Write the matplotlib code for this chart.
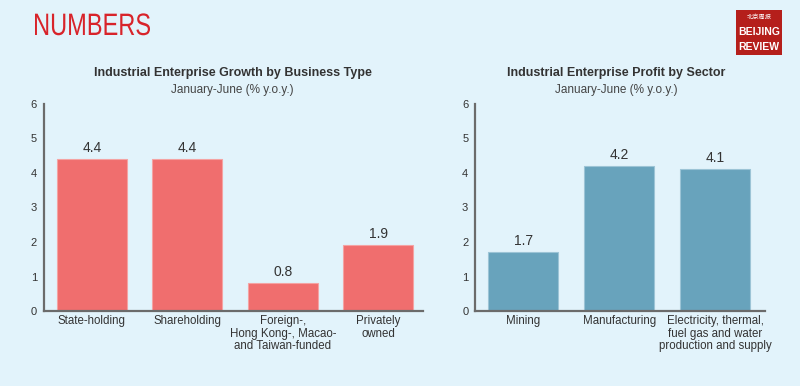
import matplotlib
matplotlib.use("Agg")
import matplotlib.pyplot as plt
from matplotlib.patches import Rectangle, PathPatch
from matplotlib.textpath import TextPath
from matplotlib.font_manager import FontProperties
from matplotlib.transforms import Affine2D, IdentityTransform

plt.rcParams["font.family"] = ["Liberation Sans", "DejaVu Sans"]

# data
left_title = "Industrial Enterprise Growth by Business Type"
right_title = "Industrial Enterprise Profit by Sector"
subtitle = "January-June (% y.o.y.)"

business_types = ["State-holding", "Shareholding",
                  "Foreign-,\nHong Kong-, Macao-\nand Taiwan-funded",
                  "Privately\nowned"]
growth = [4.4, 4.4, 0.8, 1.9]

sectors = ["Mining", "Manufacturing",
           "Electricity, thermal,\nfuel gas and water\nproduction and supply"]
profit = [1.7, 4.2, 4.1]

yticks = [0, 1, 2, 3, 4, 5, 6]

bg = "#e2f3fb"
red = "#f06e6e"
blue = "#68a3bc"
txt = "#333333"
spine = "#6b6b6b"

fig = plt.figure(figsize=(8, 3.86), dpi=100, facecolor=bg)


def draw(ax, cats, vals, color, edge):
    ax.set_facecolor(bg)
    x = range(len(cats))
    ax.bar(x, vals, width=0.73, color=color, edgecolor=edge, linewidth=0.8)
    for i, v in zip(x, vals):
        ax.text(i, v + 0.12, f"{v:.1f}", ha="center", va="bottom",
                fontsize=10, color=txt)
    ax.set_ylim(0, 6)
    ax.set_yticks(yticks)
    ax.set_xticks(list(x))
    ax.set_xticklabels(cats, fontsize=8.3, color=txt, linespacing=1.05)
    ax.tick_params(axis="y", length=0, pad=5, labelsize=8, labelcolor=txt)
    ax.tick_params(axis="x", length=0, pad=3)
    for s in ["top", "right"]:
        ax.spines[s].set_visible(False)
    for s in ["left", "bottom"]:
        ax.spines[s].set_color(spine)
        ax.spines[s].set_linewidth(1.6)


ax1 = fig.add_axes([0.055, 0.194, 0.474, 0.537])
draw(ax1, business_types, growth, red, "#f4a3a3")
ax1.set_xlim(-0.5, 3.47)

ax2 = fig.add_axes([0.594, 0.194, 0.3625, 0.537])
draw(ax2, sectors, profit, blue, "#9cc4d6")
ax2.set_xlim(-0.5, 2.52)

# titles
fig.text(0.291, 0.81, left_title, ha="center", va="center",
         fontsize=9, fontweight="bold", color=txt)
fig.text(0.291, 0.768, subtitle, ha="center", va="center",
         fontsize=8.5, color="#444444")
fig.text(0.77, 0.81, right_title, ha="center", va="center",
         fontsize=9, fontweight="bold", color=txt)
fig.text(0.77, 0.768, subtitle, ha="center", va="center",
         fontsize=8.5, color="#444444")

# header, condensed by squeezing the text path
tp = TextPath((0, 0), "NUMBERS", size=31,
              prop=FontProperties(family="Liberation Sans"))
ext = tp.get_extents()
sx = 115.0 / ext.width
hdr = Affine2D().translate(-ext.x0, 0).scale(sx, 1).translate(35, 351)
fig.patches.append(PathPatch(tp, transform=hdr + IdentityTransform(),
                             facecolor="#d8232a", edgecolor="none"))

# logo
fig.patches.append(Rectangle((0.92, 0.857), 0.057, 0.117, transform=fig.transFigure,
                             facecolor="#b51f1b", edgecolor="none"))
fig.text(0.9485, 0.955, "北京周报", ha="center", va="center", fontsize=4.5,
         color="white", family=["Noto Sans CJK SC", "DejaVu Sans"])
fig.text(0.9485, 0.918, "BEIJING", ha="center", va="center", fontsize=7.5,
         color="white", fontweight="bold")
fig.text(0.9485, 0.879, "REVIEW", ha="center", va="center", fontsize=7.5,
         color="white", fontweight="bold")

fig.savefig("out.png", dpi=100, facecolor=bg)
